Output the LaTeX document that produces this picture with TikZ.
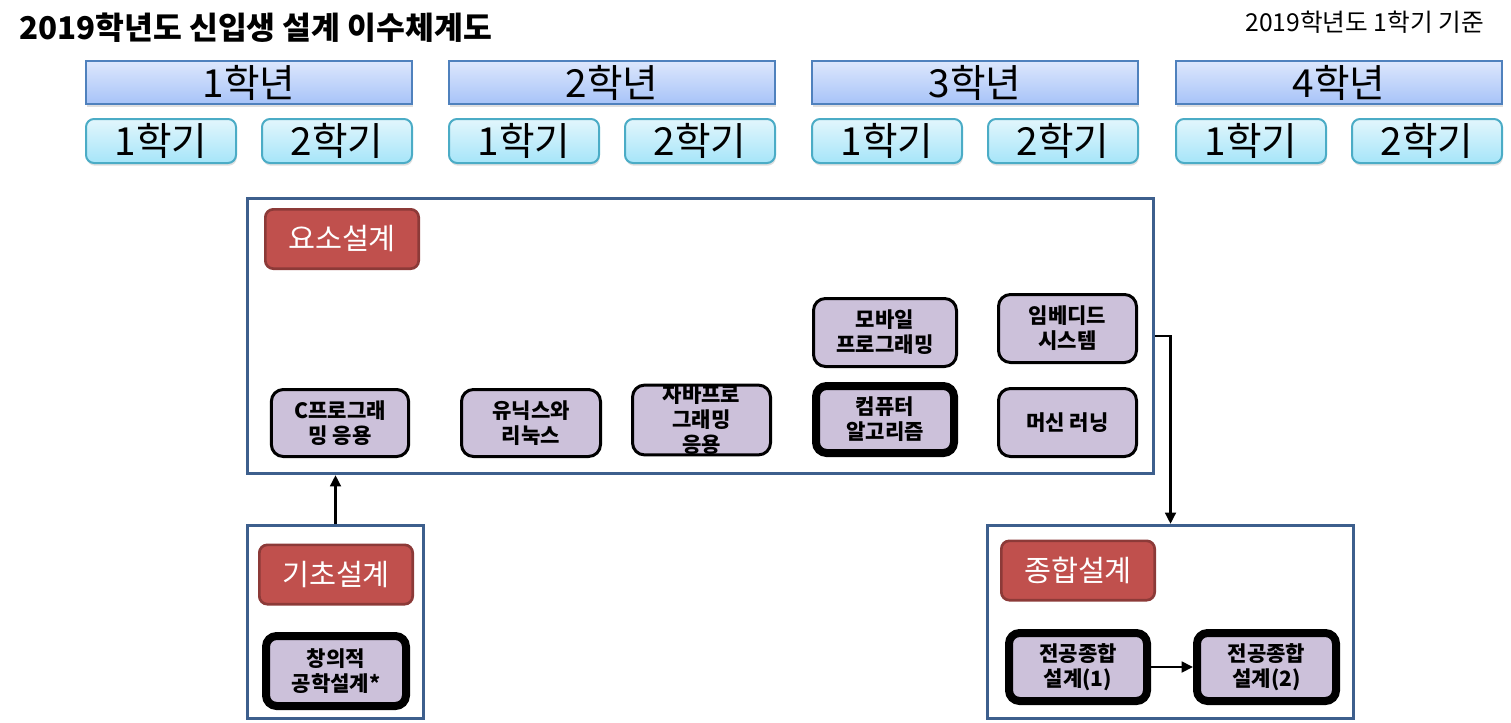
\documentclass[tikz,border=0pt]{standalone}
\usepackage{fontspec}
\setmainfont{Noto Sans CJK KR}
\usetikzlibrary{arrows.meta,shadows}
\definecolor{yeartop}{HTML}{DDE7FC}
\definecolor{yearbot}{HTML}{A7C3F8}
\definecolor{yearline}{HTML}{4F81BD}
\definecolor{semtop}{HTML}{E2F6FC}
\definecolor{sembot}{HTML}{A6E5F9}
\definecolor{semline}{HTML}{4BACC6}
\definecolor{frameline}{HTML}{3D5F8D}
\definecolor{labfill}{HTML}{C0504D}
\definecolor{labline}{HTML}{8C3A38}
\definecolor{coursefill}{HTML}{CCC1DA}
\tikzset{
  x=0.75pt, y=-0.75pt,
  yearbox/.style={draw=yearline, line width=1.5pt, top color=yeartop, bottom color=yearbot,
    minimum width=244.5pt, minimum height=32.5pt, inner sep=0pt,
    font=\fontsize{29}{32}\selectfont,
    drop shadow={opacity=0.25, shadow xshift=0.6pt, shadow yshift=-2pt}},
  sembox/.style={draw=semline, line width=1.5pt, top color=semtop, bottom color=sembot,
    rounded corners=6pt, minimum width=112.5pt, minimum height=33pt, inner sep=0pt,
    font=\fontsize{29}{32}\selectfont,
    drop shadow={opacity=0.25, shadow xshift=0.6pt, shadow yshift=-2pt}},
  frame/.style={draw=frameline, line width=2.4pt, inner sep=0pt},
  labbox/.style={draw=labline, fill=labfill, line width=2pt, rounded corners=6pt,
    minimum width=115pt, minimum height=44.5pt, inner sep=0pt, text=white,
    font=\fontsize{22}{26}\selectfont},
  course/.style={draw=black, fill=coursefill, line width=2.25pt, rounded corners=9pt,
    inner sep=0pt, align=center, font=\fontsize{15.8}{18.75}\bfseries\selectfont},
  thick course/.style={course, line width=6pt, rounded corners=8pt},
  arr/.style={draw=black, line width=2pt, -{Triangle[length=8.5pt,width=8pt]}}
}
\begin{document}
\begin{tikzpicture}
\useasboundingbox (0,0) rectangle (1511,722);
% titles
\node[anchor=west, inner sep=0pt, font=\fontsize{23.5}{26}\bfseries\selectfont] (title) at (19,28) {2019학년도 신입생 설계 이수체계도};
\node[anchor=east, inner sep=0pt, font=\fontsize{18.5}{22}\selectfont] (basis) at (1484,22) {2019학년도 1학기 기준};
% year boxes
\node[yearbox] (y1) at (249,82.5) {1학년};
\node[yearbox] (y2) at (612,82.5) {2학년};
\node[yearbox] (y3) at (975,82.5) {3학년};
\node[yearbox] (y4) at (1339,82.5) {4학년};
% semester boxes
\node[sembox] (s11) at (161,141) {1학기};
\node[sembox] (s12) at (337,141) {2학기};
\node[sembox] (s21) at (524,141) {1학기};
\node[sembox] (s22) at (700,141) {2학기};
\node[sembox] (s31) at (887,141) {1학기};
\node[sembox] (s32) at (1063,141) {2학기};
\node[sembox] (s41) at (1251,141) {1학기};
\node[sembox] (s42) at (1427,141) {2학기};
% frames
\node[frame, minimum width=679.5pt, minimum height=206.25pt] (yoso) at (700.5,336) {};
\node[frame, minimum width=132pt, minimum height=144.75pt] (gicho) at (335.5,622) {};
\node[frame, minimum width=274.5pt, minimum height=144.75pt] (jong) at (1170.5,622) {};
% labels
\node[labbox] (lyoso) at (342,239) {요소설계};
\node[labbox] (lgicho) at (336,574.5) {기초설계};
\node[labbox] (ljong) at (1078,570.5) {종합설계};
% courses
\node[course, minimum width=103pt, minimum height=50.25pt] (cprog) at (340,423) {C프로그래\\밍 응용};
\node[course, minimum width=104.25pt, minimum height=50.25pt] (unix) at (531,423) {유닉스와\\리눅스};
\node[course, minimum width=103.5pt, minimum height=50.25pt] (java) at (701.5,420) {자바프로\\그래밍\\응용};
\node[course, minimum width=107.25pt, minimum height=51pt] (mobile) at (885,332.5) {모바일\\프로그래밍};
\node[thick course, minimum width=103.5pt, minimum height=50.25pt] (algo) at (885,419.5) {컴퓨터\\알고리즘};
\node[course, minimum width=103.5pt, minimum height=51pt] (embed) at (1067.5,328.5) {임베디드\\시스템};
\node[course, minimum width=103.5pt, minimum height=51pt] (ml) at (1067.5,422.5) {머신 러닝};
\node[thick course, minimum width=105pt, minimum height=52.5pt] (creative) at (336,671) {창의적\\공학설계*};
\node[thick course, minimum width=103.5pt, minimum height=51pt] (cap1) at (1078,667) {전공종합\\설계(1)};
\node[thick course, minimum width=104.25pt, minimum height=51pt] (cap2) at (1266.5,667) {전공종합\\설계(2)};
% connectors
\draw[arr] (gicho.north) -- (gicho.north |- yoso.south);
\draw[arr] (yoso.east) -| (jong.north);
\draw[arr] (cap1.east) -- (cap2.west);
\end{tikzpicture}
\end{document}
